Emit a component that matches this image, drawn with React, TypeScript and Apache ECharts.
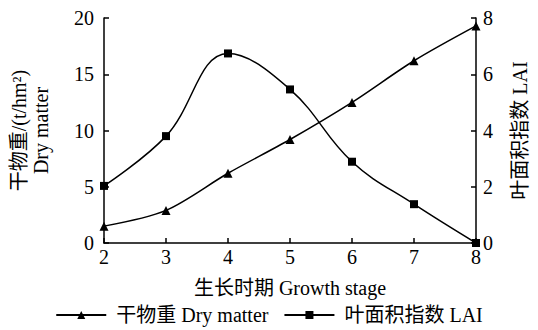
import React, { useEffect, useRef } from "react";
import * as echarts from "echarts";

const stages = [2, 3, 4, 5, 6, 7, 8];
const dryMatter = [1.5, 2.9, 6.2, 9.2, 12.5, 16.2, 19.3];
const lai = [2.03, 3.8, 6.74, 5.46, 2.89, 1.38, 0];
const leftTicks = { min: 0, max: 20, interval: 5 };
const rightTicks = { min: 0, max: 8, interval: 2 };

const FONT = "Liberation Serif, Noto Sans CJK SC, serif";

export default function App() {
  const ref = useRef<HTMLDivElement>(null);
  useEffect(() => {
    if (!ref.current) return;
    const chart = echarts.init(ref.current, undefined, { renderer: "svg" });
    const axisLine = { show: true, lineStyle: { color: "#000", width: 1.5 } };
    const axisTick = { show: true, inside: true, length: 5, lineStyle: { color: "#000", width: 1.5 } };
    const axisLabel = { color: "#000", fontFamily: FONT, fontSize: 20 };
    chart.setOption({
      animation: false,
      backgroundColor: "#fff",
      textStyle: { fontFamily: FONT, color: "#000" },
      grid: { left: 103, right: 57, top: 18, bottom: 87 },
      xAxis: {
        type: "value",
        min: 2,
        max: 8,
        interval: 1,
        axisLine,
        axisTick,
        axisLabel: { ...axisLabel, margin: 4 },
        splitLine: { show: false },
        name: "生长时期 Growth stage",
        nameLocation: "middle",
        nameGap: 35,
        nameTextStyle: { color: "#000", fontFamily: FONT, fontSize: 20 },
      },
      yAxis: [
        {
          type: "value",
          ...leftTicks,
          position: "left",
          axisLine,
          axisTick,
          axisLabel: { ...axisLabel, margin: 10 },
          splitLine: { show: false },
          name: "干物重/(t/hm²)\nDry matter",
          nameLocation: "middle",
          nameRotate: 90,
          nameGap: 52,
          nameTextStyle: { color: "#000", fontFamily: FONT, fontSize: 20, lineHeight: 22 },
        },
        {
          type: "value",
          ...rightTicks,
          position: "right",
          axisLine,
          axisTick,
          axisLabel: { ...axisLabel, margin: 7 },
          splitLine: { show: false },
          name: "叶面积指数 LAI",
          nameLocation: "middle",
          nameRotate: 90,
          nameGap: 34,
          nameTextStyle: { color: "#000", fontFamily: FONT, fontSize: 20 },
        },
      ],
      legend: {
        bottom: 0,
        left: "center",
        itemWidth: 50,
        itemHeight: 10,
        itemGap: 15,
        textStyle: { color: "#000", fontFamily: FONT, fontSize: 20, padding: [0, 0, 0, 5] },
        data: ["干物重 Dry matter", "叶面积指数 LAI"],
      },
      series: [
        {
          name: "干物重 Dry matter",
          type: "line",
          yAxisIndex: 0,
          smooth: 0.3,
          symbol: "triangle",
          symbolSize: 9,
          itemStyle: { color: "#000" },
          lineStyle: { color: "#000", width: 1.5 },
          data: stages.map((s, i) => [s, dryMatter[i]]),
        },
        {
          name: "叶面积指数 LAI",
          type: "line",
          yAxisIndex: 1,
          smooth: 0.4,
          symbol: "rect",
          symbolSize: 8,
          itemStyle: { color: "#000" },
          lineStyle: { color: "#000", width: 1.5 },
          data: stages.map((s, i) => [s, lai[i]]),
        },
      ],
    });
    return () => chart.dispose();
  }, []);
  return <div ref={ref} style={{ width: 538, height: 330, position: "absolute", left: 0, top: 0 }} />;
}
